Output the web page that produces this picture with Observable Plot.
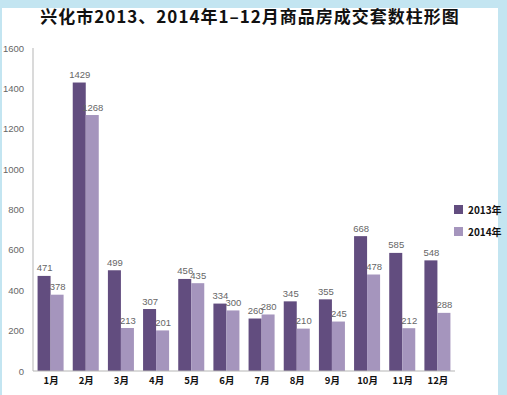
<!DOCTYPE html>
<html><head><meta charset="utf-8">
<script src="https://cdn.jsdelivr.net/npm/d3@7"></script>
<script src="https://cdn.jsdelivr.net/npm/@observablehq/plot@0.6"></script>
<style>
html,body{margin:0;padding:0;}
body{width:507px;height:395px;background:#c3e5f1;position:relative;overflow:hidden;font-family:"Noto Sans CJK SC",sans-serif;}
#panel{position:absolute;left:2px;top:8px;width:496px;height:387px;background:#fff;}
#title{position:absolute;left:0;top:5px;width:500px;text-align:center;font-size:17px;font-weight:bold;letter-spacing:1px;line-height:22px;color:#111;white-space:nowrap;}
#chart{position:absolute;left:0;top:38px;}
#legend{position:absolute;left:454px;top:203px;font-size:10px;font-weight:bold;color:#111;}
#legend .item{display:flex;align-items:center;height:13px;margin-bottom:9px;}
#legend .sw{width:9px;height:9px;margin-right:5px;}
</style></head>
<body>
<div id="panel"></div>
<div id="title">兴化市2013、2014年1–12月商品房成交套数柱形图</div>
<div id="chart"></div>
<div id="legend"></div>
<script>
const months = ["1月","2月","3月","4月","5月","6月","7月","8月","9月","10月","11月","12月"];
const years = ["2013年","2014年"];
const values2013 = [471,1429,499,307,456,334,260,345,355,668,585,548];
const values2014 = [378,1268,213,201,435,300,280,210,245,478,212,288];
const yTicks = [0,200,400,600,800,1000,1200,1400,1600];
const colors = ["#624d7f","#a595bd"];

const data = [];
months.forEach((m,i)=>{
  data.push({month:m, year:years[0], value:values2013[i]});
  data.push({month:m, year:years[1], value:values2014[i]});
});

const W = 507, H = 357, mL = 33, mR = 52, mT = 10, mB = 24;

const chart = Plot.plot({
  width: W, height: H,
  marginTop: mT, marginBottom: mB, marginLeft: mL, marginRight: mR,
  style: {fontFamily: "'Liberation Sans', sans-serif", background: "transparent", overflow: "visible"},
  fx: {domain: months, paddingInner: 0.26, paddingOuter: 0.13, label: null, round: false},
  x: {domain: years, padding: 0, axis: null, round: false},
  y: {domain: [0,1600], label: null},
  color: {domain: years, range: colors},
  marks: [
    Plot.axisY({ticks: yTicks, tickFormat: d => String(d), tickSize: 0, tickPadding: 14, fill: "#666", fontSize: 9.5, label: null}),
    Plot.axisFx({anchor: "bottom", tickSize: 0, tickPadding: 6, fontWeight: "bold", fontSize: 9.5, fill: "#111", label: null, fontFamily: "'Noto Sans CJK SC', sans-serif"}),
    Plot.barY(data, {fx: "month", x: "year", y: "value", fill: "year"}),
    Plot.text(data, {fx: "month", x: "year", y: "value", text: d => String(d.value), dy: -8, fill: "#666", fontSize: 9.5})
  ]
});
document.getElementById("chart").appendChild(chart);

// axis line and baseline drawn from the plot's own y scale
const ys = chart.scale("y");
const svg = d3.select(chart);
svg.append("line")
  .attr("x1", mL).attr("x2", mL)
  .attr("y1", ys.apply(0)).attr("y2", ys.apply(1600))
  .attr("stroke", "#b5b5b5").attr("stroke-width", 1);
svg.append("line")
  .attr("x1", mL).attr("x2", W - mR)
  .attr("y1", ys.apply(0)).attr("y2", ys.apply(0))
  .attr("stroke", "#b5b5b5").attr("stroke-width", 1);

// legend
const lg = d3.select("#legend");
years.forEach((y,i)=>{
  const it = lg.append("div").attr("class","item");
  it.append("div").attr("class","sw").style("background", colors[i]);
  it.append("span").text(y);
});
</script>
</body></html>
